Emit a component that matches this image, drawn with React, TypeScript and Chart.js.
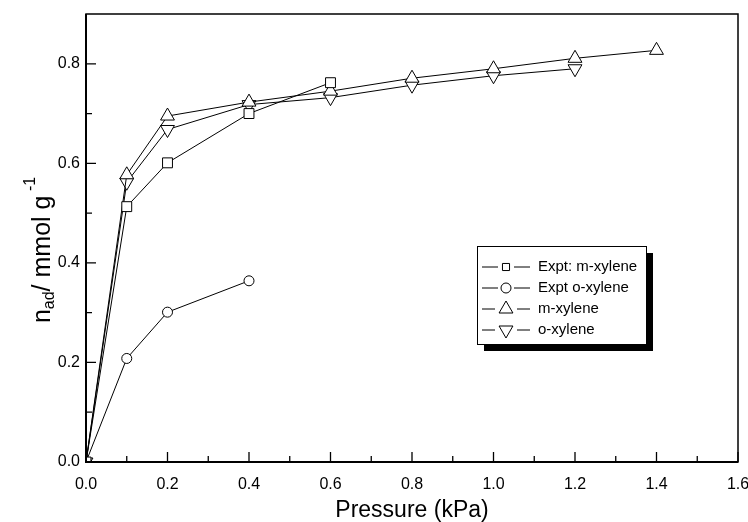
import React, { useEffect, useRef } from "react";
import { Chart, registerables } from "chart.js";

Chart.register(...registerables);

const exptMX = [0, 0.1, 0.2, 0.4, 0.6];
const exptMY = [0, 0.513, 0.601, 0.7, 0.762];
const exptOX = [0, 0.1, 0.2, 0.4];
const exptOY = [0, 0.208, 0.301, 0.364];
const simMX = [0, 0.1, 0.2, 0.4, 0.6, 0.8, 1.0, 1.2, 1.4];
const simMY = [0, 0.577, 0.695, 0.723, 0.745, 0.771, 0.79, 0.811, 0.827];
const simOX = [0, 0.1, 0.2, 0.4, 0.6, 0.8, 1.0, 1.2];
const simOY = [0, 0.562, 0.668, 0.718, 0.732, 0.757, 0.776, 0.79];

const seriesNames = ["Expt: m-xylene", "Expt o-xylene", "m-xylene", "o-xylene"];
const xTickValues = [0, 0.2, 0.4, 0.6, 0.8, 1.0, 1.2, 1.4, 1.6];
const xMinorValues = [0.1, 0.3, 0.5, 0.7, 0.9, 1.1, 1.3, 1.5];
const yTickValues = [0, 0.2, 0.4, 0.6, 0.8];
const yMinorValues = [0.1, 0.3, 0.5, 0.7];

const FONT = "'Liberation Sans', Arial, sans-serif";

const pts = (xs: number[], ys: number[]) => xs.map((x, i) => ({ x, y: ys[i] }));

function drawMarker(ctx: CanvasRenderingContext2D, style: string, x: number, y: number, r: number, rot: number) {
  ctx.save();
  ctx.fillStyle = "#fff";
  ctx.strokeStyle = "#000";
  ctx.lineWidth = 1;
  ctx.beginPath();
  if (style === "rect") {
    const s = Math.SQRT1_2 * r;
    ctx.rect(x - s, y - s, 2 * s, 2 * s);
  } else if (style === "circle") {
    ctx.arc(x, y, r, 0, Math.PI * 2);
  } else {
    const base = rot ? Math.PI / 2 : -Math.PI / 2;
    for (let k = 0; k < 3; k++) {
      const ang = base + (k * 2 * Math.PI) / 3;
      const px = x + Math.cos(ang) * r;
      const py = y + Math.sin(ang) * r;
      if (k === 0) ctx.moveTo(px, py);
      else ctx.lineTo(px, py);
    }
    ctx.closePath();
  }
  ctx.fill();
  ctx.stroke();
  ctx.restore();
}

const framePlugin = {
  id: "frame",
  afterDraw(chart: any) {
    const { ctx, chartArea: a, scales } = chart;
    const xs = scales.x;
    const ys = scales.y;
    ctx.save();
    ctx.strokeStyle = "#000";
    ctx.lineWidth = 1.5;
    ctx.strokeRect(a.left, a.top, a.right - a.left, a.bottom - a.top);
    ctx.lineWidth = 2;
    ctx.beginPath();
    ctx.moveTo(a.left, a.top);
    ctx.lineTo(a.left, a.bottom);
    ctx.lineTo(a.right, a.bottom);
    ctx.stroke();
    ctx.lineWidth = 1.3;
    ctx.beginPath();
    xTickValues.forEach((v) => {
      const p = xs.getPixelForValue(v);
      ctx.moveTo(p, a.bottom);
      ctx.lineTo(p, a.bottom - 10);
    });
    xMinorValues.forEach((v) => {
      const p = xs.getPixelForValue(v);
      ctx.moveTo(p, a.bottom);
      ctx.lineTo(p, a.bottom - 6);
    });
    yTickValues.forEach((v) => {
      const p = ys.getPixelForValue(v);
      ctx.moveTo(a.left, p);
      ctx.lineTo(a.left + 10, p);
    });
    yMinorValues.forEach((v) => {
      const p = ys.getPixelForValue(v);
      ctx.moveTo(a.left, p);
      ctx.lineTo(a.left + 6, p);
    });
    ctx.stroke();

    // y-axis title with sub/superscript
    ctx.fillStyle = "#000";
    ctx.translate(43, (a.top + a.bottom) / 2 + 12);
    ctx.rotate(-Math.PI / 2);
    const big = `25px ${FONT}`;
    const small = `16px ${FONT}`;
    const parts = [
      { t: "n", f: big, dy: 0 },
      { t: "ad", f: small, dy: 7 },
      { t: "/ mmol g", f: big, dy: 0 },
      { t: " -1", f: small, dy: -12 },
    ];
    let total = 0;
    parts.forEach((p) => {
      ctx.font = p.f;
      total += ctx.measureText(p.t).width;
    });
    let x = -total / 2;
    ctx.textBaseline = "middle";
    ctx.textAlign = "left";
    parts.forEach((p) => {
      ctx.font = p.f;
      ctx.fillText(p.t, x, p.dy);
      x += ctx.measureText(p.t).width;
    });
    ctx.restore();

    // legend
    ctx.save();
    const lx = 477, ly = 246, lw = 169, lh = 98;
    ctx.fillStyle = "#000";
    ctx.fillRect(lx + 7, ly + 7, lw, lh);
    ctx.fillStyle = "#fff";
    ctx.fillRect(lx, ly, lw, lh);
    ctx.strokeStyle = "#000";
    ctx.lineWidth = 1;
    ctx.strokeRect(lx + 0.5, ly + 0.5, lw, lh);
    const styles = chart.data.datasets;
    const legendR = [5, 5, 8, 8];
    seriesNames.forEach((name, i) => {
      const ry = ly + 21 + i * 21;
      ctx.strokeStyle = "#000";
      ctx.lineWidth = 1;
      ctx.beginPath();
      ctx.moveTo(lx + 5, ry);
      ctx.lineTo(lx + 53, ry);
      ctx.stroke();
      const ds = styles[i];
      const r = legendR[i];
      ctx.fillStyle = "#fff";
      ctx.fillRect(lx + 29 - r - 3, ry - 2, 2 * r + 6, 4);
      drawMarker(ctx, ds.pointStyle, lx + 29, ry, r, ds.rotation || 0);
      ctx.fillStyle = "#000";
      ctx.font = `15px ${FONT}`;
      ctx.textAlign = "left";
      ctx.textBaseline = "middle";
      ctx.fillText(name, lx + 61, ry);
    });
    ctx.restore();
  },
};

export default function App() {
  const ref = useRef<HTMLCanvasElement>(null);
  useEffect(() => {
    if (!ref.current) return;
    const common = {
      borderColor: "#000",
      borderWidth: 1,
      pointBackgroundColor: "#fff",
      pointBorderColor: "#000",
      pointBorderWidth: 1,
      showLine: true,
      tension: 0,
    };
    const chart = new Chart(ref.current, {
      type: "scatter",
      data: {
        datasets: [
          { ...common, label: seriesNames[0], data: pts(exptMX, exptMY), pointStyle: "rect", pointRadius: 7 },
          { ...common, label: seriesNames[1], data: pts(exptOX, exptOY), pointStyle: "circle", pointRadius: 5 },
          { ...common, label: seriesNames[2], data: pts(simMX, simMY), pointStyle: "triangle", pointRadius: 8 },
          { ...common, label: seriesNames[3], data: pts(simOX, simOY), pointStyle: "triangle", pointRadius: 8, rotation: 180 },
        ] as any,
      },
      options: {
        animation: false,
        responsive: false,
        layout: { padding: { top: 14, right: 10, left: 0, bottom: 0 } },
        plugins: { legend: { display: false }, tooltip: { enabled: false } },
        scales: {
          x: {
            type: "linear",
            min: 0,
            max: 1.6,
            afterBuildTicks: (s: any) => {
              s.ticks = xTickValues.map((v) => ({ value: v }));
            },
            afterFit: (s: any) => {
              s.height = 60;
              s.paddingLeft = 0;
              s.paddingRight = 0;
            },
            grid: { display: false, drawTicks: false },
            border: { display: false },
            ticks: {
              padding: 13,
              color: "#000",
              font: { family: FONT, size: 16 },
              maxRotation: 0,
              callback: (v: any) => Number(v).toFixed(1),
            },
            title: {
              display: true,
              text: "Pressure (kPa)",
              color: "#000",
              font: { family: FONT, size: 23 },
              padding: { top: 4, bottom: -2 },
            },
          },
          y: {
            type: "linear",
            min: 0,
            max: 0.9,
            afterBuildTicks: (s: any) => {
              s.ticks = yTickValues.map((v) => ({ value: v }));
            },
            afterFit: (s: any) => {
              s.width = 86;
              s.paddingTop = 0;
              s.paddingBottom = 0;
            },
            grid: { display: false, drawTicks: false },
            border: { display: false },
            ticks: {
              padding: 6,
              color: "#000",
              font: { family: FONT, size: 16 },
              callback: (v: any) => Number(v).toFixed(1),
            },
          },
        },
      } as any,
      plugins: [framePlugin],
    });
    return () => chart.destroy();
  }, []);
  return (
    <div style={{ position: "absolute", left: 0, top: 0, width: 748, height: 522, background: "#fff" }}>
      <canvas ref={ref} width={748} height={522} style={{ width: 748, height: 522 }} />
    </div>
  );
}
